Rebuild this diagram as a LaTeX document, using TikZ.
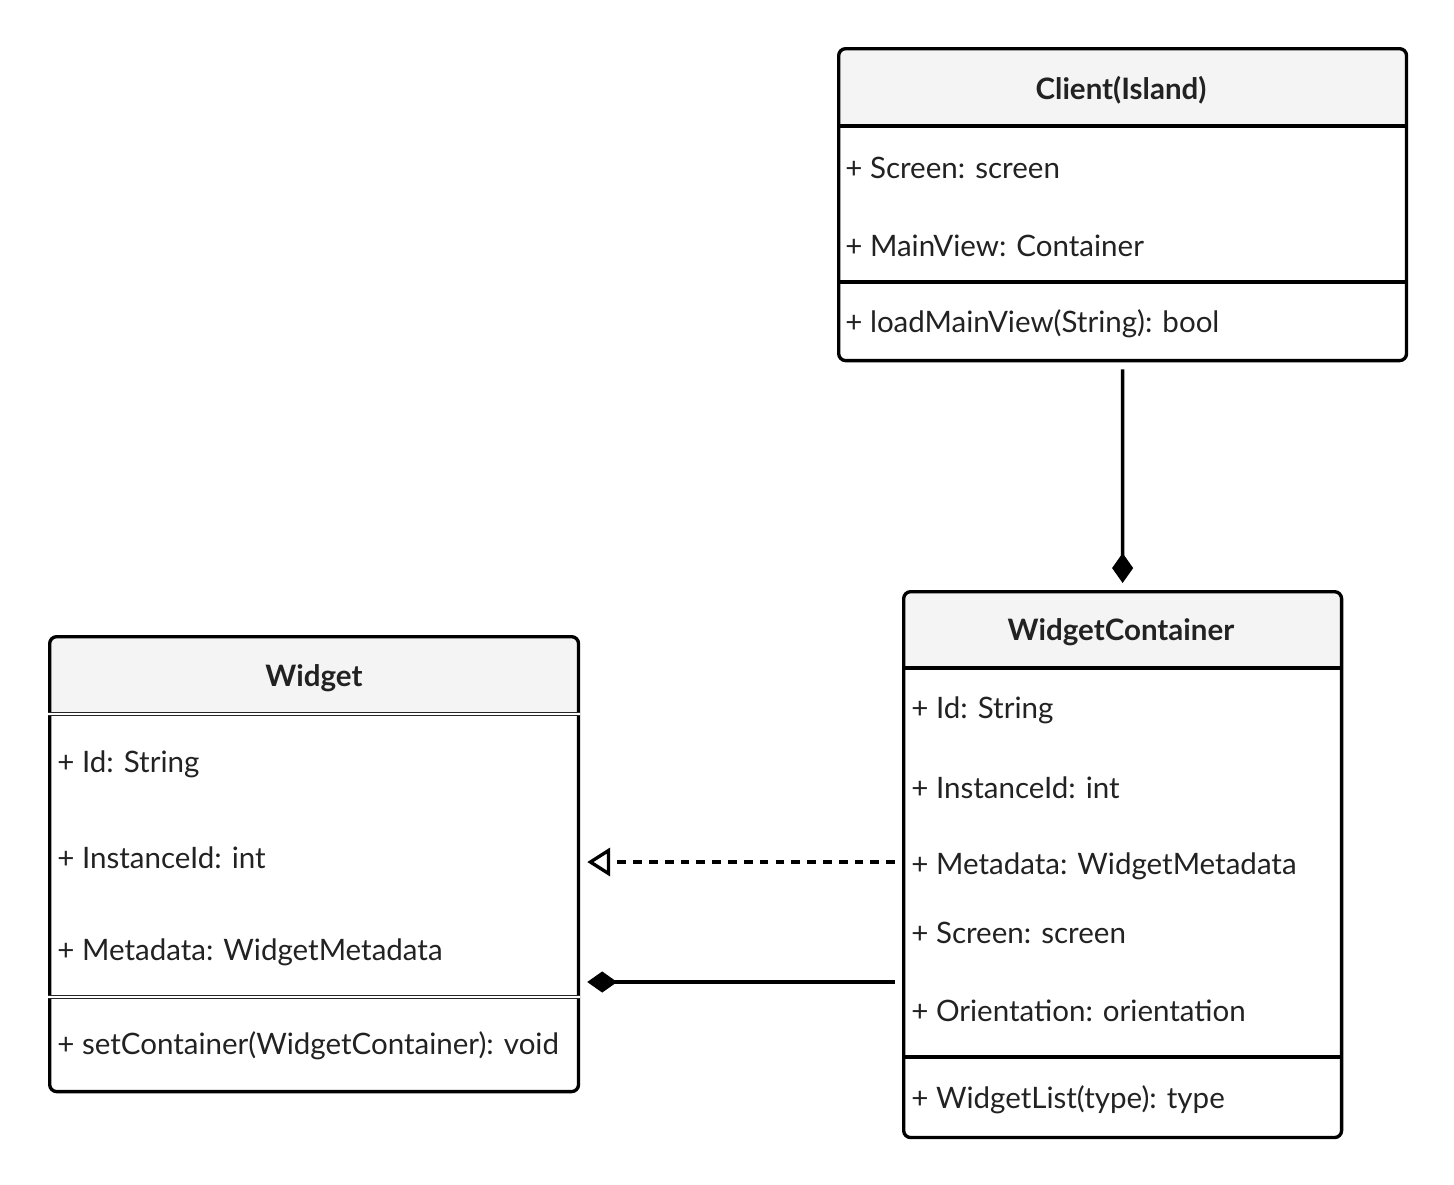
\documentclass[tikz,border=0pt]{standalone}
\usepackage{fontspec}
\setmainfont{Lato}
\usepackage{xcolor}
\usetikzlibrary{positioning,arrows.meta}
\definecolor{headfill}{HTML}{F4F4F4}
\definecolor{inkgray}{HTML}{222222}
\tikzset{
every node/.style={font=\fontsize{16.8}{20}\selectfont, text=inkgray},
classbox/.style={draw, line width=1.9pt, rounded corners=4pt, anchor=north west, inner sep=0pt,
    path picture={\fill[headfill] (path picture bounding box.north west) rectangle ([yshift=-1.57cm]path picture bounding box.north east);}},
classname/.style={font=\fontsize{16.8}{20}\selectfont\bfseries},
member/.style={anchor=west, inner sep=0pt},
sepline/.style={line width=1.9pt},
dblsep/.style={draw=black!85, line width=0.8pt, double=white, double distance=0.8pt},
assoc/.style={line width=1.9pt, shorten <=4pt, shorten >=4pt}}

\begin{document}
\begin{tikzpicture}[x=0.02cm, y=-0.02cm]
        \useasboundingbox (0,0) rectangle (1454,1184);
        % Client(Island)
        \node[classbox, minimum width=11.36cm, minimum height=6.24cm] (client) at (837,47) {};
        \draw[sepline] (client.west |- 0,126) -- (client.east |- 0,126);
        \draw[sepline] (client.west |- 0,282) -- (client.east |- 0,282);
        \node[classname] (clienttitle) at (1121,90) {Client(Island)};
        \node[member] (clientscreen) at (845,168) {+ Screen: screen};
        \node[member] (clientview) at (845,246) {+ MainView: Container};
        \node[member] (clientload) at (845,324) {+ loadMainView(String): bool};
        % WidgetContainer
        \node[classbox, minimum width=8.76cm, minimum height=10.92cm] (container) at (902,590) {};
        \draw[sepline] (container.west |- 0,668) -- (container.east |- 0,668);
        \draw[sepline] (container.west |- 0,1057) -- (container.east |- 0,1057);
        \node[classname] (containertitle) at (1121,632) {WidgetContainer};
        \node[member] (containerid) at (911,710) {+ Id: String};
        \node[member] (containerinst) at (911,788) {+ InstanceId: int};
        \node[member] (containermeta) at (911,866) {+ Metadata: WidgetMetadata};
        \node[member] (containerscreen) at (911,933) {+ Screen: screen};
        \node[member] (containerorient) at (911,1011) {+ Orientation: orientation};
        \node[member] (containerlist) at (911,1100) {+ WidgetList(type): type};
        % Widget
        \node[classbox, minimum width=10.58cm, minimum height=9.10cm] (widget) at (48,635) {};
        \draw[dblsep] (widget.west |- 0,714) -- (widget.east |- 0,714);
        \draw[dblsep] (widget.west |- 0,997) -- (widget.east |- 0,997);
        \node[classname] (widgettitle) at (314,678) {Widget};
        \node[member] (widgetid) at (57,764) {+ Id: String};
        \node[member] (widgetinst) at (57,858) {+ InstanceId: int};
        \node[member] (widgetmeta) at (57,952) {+ Metadata: WidgetMetadata};
        \node[member] (widgetset) at (57,1046) {+ setContainer(WidgetContainer): void};
        % connectors
        \coordinate (realfrom) at (container.west |- 0,862);
        \coordinate (compfrom) at (container.west |- 0,982);
        \draw[assoc, -{Diamond[length=17pt, width=12pt]}] (client.south) -- (container.north);
        \draw[assoc, dash pattern=on 5pt off 4pt, -{Triangle[open, length=13pt, width=16pt]}] (realfrom) -- (widget.east |- realfrom);
        \draw[assoc, -{Diamond[length=17pt, width=12pt]}] (compfrom) -- (widget.east |- compfrom);
    \end{tikzpicture}
\end{document}
